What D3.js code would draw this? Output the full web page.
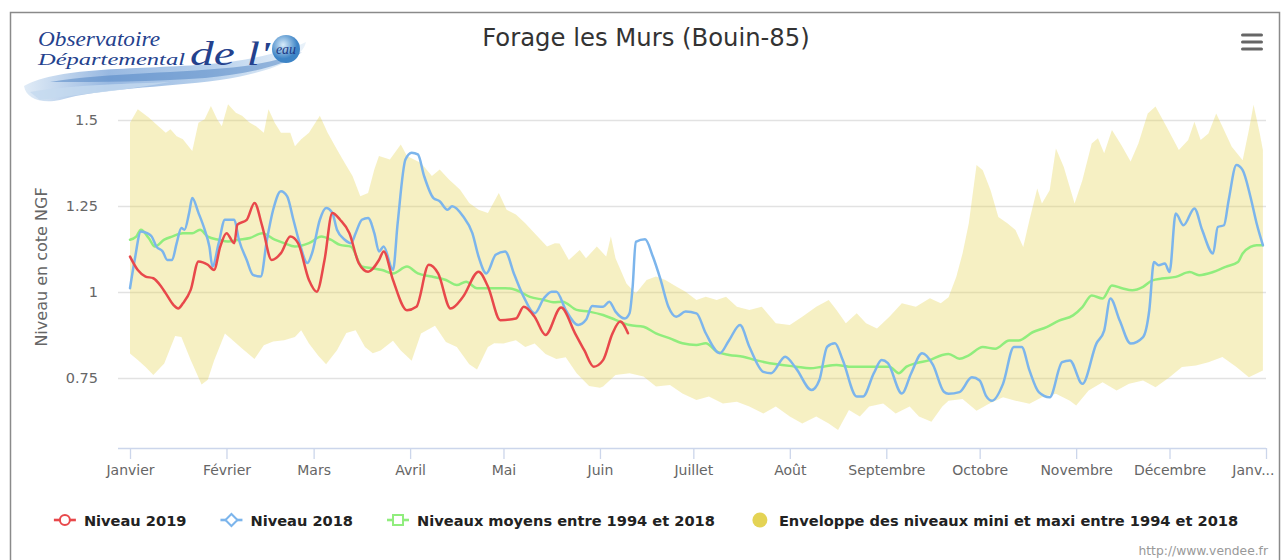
<!DOCTYPE html>
<html>
<head>
<meta charset="utf-8">
<script src="https://cdn.jsdelivr.net/npm/d3@7"></script>
<style>
  body { margin: 0; background: #fff; }
  svg { display: block; font-family: "DejaVu Sans", sans-serif; }
</style>
</head>
<body>
<svg id="chart"></svg>
<script>
// month labels on the x axis (last one is cut by the chart edge)
let moisLabels = ["Janvier", "Février", "Mars", "Avril", "Mai", "Juin", "Juillet",
  "Août", "Septembre", "Octobre", "Novembre", "Décembre", "Janv..."];
let yTicks = [0.75, 1, 1.25, 1.5];

// [day of year, level]
let niveau2019 = [
  [0, 1.103], [2.5, 1.064], [5, 1.045], [7.5, 1.040], [10, 1.016], [11.5, 0.996], [14, 0.962],
  [15.5, 0.952], [17, 0.967], [19.5, 1.006], [22, 1.089], [25, 1.079], [27, 1.064], [29, 1.132],
  [31, 1.171], [33.5, 1.142], [34.5, 1.196], [37.5, 1.210], [40, 1.259], [42.5, 1.191],
  [45.5, 1.093], [48.5, 1.113], [51.5, 1.161], [54, 1.142], [57.5, 1.035], [60, 1.001],
  [62.5, 1.093], [65, 1.230], [67.5, 1.210], [70.5, 1.171], [73.5, 1.084], [76.5, 1.059],
  [80, 1.093], [81.5, 1.118], [84.5, 1.035], [89, 0.947], [92, 0.957], [96, 1.079], [99, 1.054],
  [103, 0.952], [107, 0.986], [112, 1.059], [115, 1.016], [119, 0.918], [124, 0.923],
  [126.5, 0.957], [130, 0.928], [133.5, 0.875], [138.5, 0.955], [143, 0.880], [146, 0.830],
  [149, 0.783], [152, 0.802], [155, 0.879], [157.5, 0.914], [160, 0.880]
];

let niveau2018 = [
  [0, 1.011], [1.5, 1.093], [3.5, 1.176], [5.5, 1.171], [7, 1.161], [8.5, 1.132], [10.5, 1.118],
  [12, 1.093], [13.5, 1.093], [15, 1.142], [16.5, 1.186], [17.5, 1.181], [19, 1.230], [20, 1.273],
  [22, 1.230], [24, 1.181], [25.5, 1.132], [26.5, 1.074], [28.5, 1.142], [30.5, 1.210],
  [33.5, 1.210], [35, 1.152], [37.5, 1.093], [39.5, 1.050], [42, 1.045], [44, 1.152],
  [46, 1.239], [48.5, 1.293], [50.5, 1.278], [52.5, 1.210], [54.5, 1.142], [57, 1.084],
  [58.5, 1.113], [61, 1.210], [63, 1.244], [65, 1.230], [66.5, 1.181], [69, 1.152], [71, 1.142],
  [72.5, 1.171], [74.5, 1.210], [76.5, 1.215], [78.5, 1.171], [80, 1.118], [81.5, 1.132],
  [84.5, 1.064], [86, 1.200], [88.5, 1.385], [90.5, 1.405], [92.5, 1.400], [94.5, 1.337],
  [97.5, 1.273], [99.5, 1.264], [102, 1.239], [103.5, 1.249], [107, 1.220], [110, 1.171],
  [112, 1.103], [114.5, 1.054], [117.5, 1.108], [120.5, 1.118], [123.5, 1.050], [126.5, 0.986],
  [130, 0.938], [133, 0.982], [135.5, 1.001], [137, 1.001], [140, 0.948], [144, 0.904],
  [146.5, 0.919], [148.5, 0.959], [152, 0.957], [154, 0.972], [156, 0.943], [159, 0.923],
  [160.5, 0.938], [161.5, 1.015], [162.5, 1.146], [165.5, 1.153], [168, 1.103], [170.5, 1.035],
  [173, 0.957], [175.5, 0.928], [178.5, 0.943], [182, 0.938], [185, 0.880], [189.5, 0.822],
  [192.5, 0.860], [196, 0.904], [199, 0.841], [203.5, 0.768], [206, 0.764], [210.5, 0.812],
  [214, 0.778], [219, 0.715], [221.5, 0.744], [224, 0.841], [226.5, 0.851], [229, 0.802],
  [233.5, 0.696], [235.5, 0.696], [239, 0.764], [241.5, 0.802], [243.5, 0.793], [248, 0.705],
  [251, 0.764], [254.5, 0.822], [258, 0.788], [261.5, 0.710], [263, 0.704], [266.5, 0.709],
  [270.5, 0.752], [273, 0.743], [275, 0.699], [277, 0.684], [280.5, 0.733], [284, 0.840],
  [286.5, 0.840], [289, 0.772], [292, 0.709], [295.5, 0.694], [299.5, 0.796], [302, 0.801],
  [306, 0.733], [310.5, 0.850], [313, 0.888], [315, 0.981], [318, 0.917], [321.5, 0.850],
  [325.5, 0.869], [327.5, 0.947], [329, 1.087], [330.5, 1.078], [332.5, 1.083], [334, 1.058],
  [336, 1.228], [338.5, 1.194], [342, 1.243], [344.5, 1.180], [348, 1.112], [349.5, 1.189],
  [351.5, 1.194], [353, 1.267], [355.5, 1.369], [357.5, 1.354], [360, 1.277], [362, 1.199],
  [364, 1.136]
];

let niveauMoyen = [
  [0, 1.152], [2, 1.161], [3.5, 1.181], [6, 1.157], [8, 1.132], [11, 1.152], [13.5, 1.161],
  [17, 1.171], [20, 1.171], [22.5, 1.181], [25, 1.161], [28.5, 1.152], [31.5, 1.147],
  [35, 1.152], [38.5, 1.157], [42.5, 1.171], [46.5, 1.152], [49.5, 1.142], [53, 1.132],
  [57.5, 1.142], [61.5, 1.161], [64.5, 1.152], [67.5, 1.137], [71, 1.132], [74.5, 1.074],
  [78, 1.069], [81, 1.064], [84.5, 1.054], [89, 1.074], [92.5, 1.054], [97, 1.045],
  [101.5, 1.035], [105, 1.020], [108, 1.030], [111.5, 1.011], [116, 1.011], [120.5, 1.011],
  [124, 1.006], [128.5, 0.986], [133, 0.977], [136, 0.970], [139, 0.972], [143.5, 0.948],
  [147.5, 0.943], [152, 0.933], [156, 0.919], [160.5, 0.904], [165, 0.899], [169, 0.880],
  [173.5, 0.865], [177.5, 0.851], [182, 0.846], [185, 0.851], [188.5, 0.827], [192.5, 0.817],
  [197, 0.812], [201, 0.802], [205.5, 0.793], [209.5, 0.788], [214, 0.783], [218.5, 0.778],
  [222.5, 0.783], [227, 0.788], [231, 0.783], [235.5, 0.783], [239.5, 0.783], [244, 0.783],
  [247, 0.764], [249.5, 0.783], [252.5, 0.793], [257, 0.802], [261, 0.817], [263, 0.820],
  [266.5, 0.806], [269.5, 0.816], [274, 0.840], [278, 0.835], [282.5, 0.859], [285.5, 0.859],
  [290, 0.883], [294.5, 0.898], [298.5, 0.917], [303, 0.932], [306, 0.956], [309, 0.990],
  [312.5, 0.981], [315.5, 1.019], [319, 1.010], [322, 1.005], [325.5, 1.015], [328.5, 1.034],
  [331.5, 1.039], [336, 1.044], [340.5, 1.058], [343.5, 1.049], [348, 1.058], [352, 1.073],
  [356, 1.087], [357.5, 1.112], [360, 1.131], [362, 1.136], [364, 1.136]
];

let enveloppeMax = [
  [0, 1.492], [2.5, 1.531], [6, 1.507], [8.5, 1.487], [11.5, 1.463], [13, 1.473], [15, 1.453],
  [17, 1.444], [20, 1.410], [22, 1.492], [24, 1.502], [26, 1.541], [28, 1.502], [29.5, 1.482],
  [31.5, 1.546], [34, 1.521], [36, 1.512], [38.5, 1.492], [40.5, 1.482], [43, 1.463],
  [44.5, 1.531], [46.5, 1.492], [48.5, 1.463], [51.5, 1.463], [53, 1.424], [55, 1.444],
  [57.5, 1.463], [61, 1.512], [63.5, 1.463], [66.5, 1.414], [69, 1.375], [71.5, 1.337],
  [74, 1.278], [76.5, 1.288], [78.5, 1.356], [80, 1.395], [83.5, 1.385], [87, 1.429],
  [89, 1.395], [93.5, 1.375], [97, 1.337], [99.5, 1.356], [102.5, 1.327], [106, 1.298],
  [109, 1.259], [112, 1.239], [115, 1.230], [118.5, 1.288], [121, 1.239], [124, 1.225],
  [127, 1.200], [130, 1.171], [134, 1.132], [136.5, 1.142], [138, 1.141], [141, 1.093],
  [144.5, 1.122], [146.5, 1.098], [150, 1.132], [153, 1.103], [154.5, 1.161], [156, 1.098],
  [159.5, 1.025], [162.5, 0.996], [166, 1.035], [169, 1.045], [172, 1.035], [175.5, 1.016],
  [178.5, 1.001], [182, 0.977], [185, 0.986], [188.5, 0.977], [191.5, 0.986], [195, 0.957],
  [199, 0.948], [203, 0.957], [207.5, 0.909], [212, 0.904], [216, 0.928], [220.5, 0.957],
  [224.5, 0.977], [227, 0.948], [230, 0.909], [233.5, 0.938], [236.5, 0.909], [240, 0.894],
  [244, 0.928], [248, 0.967], [252.5, 0.957], [257, 0.982], [260.5, 0.967], [263, 0.985],
  [265.5, 1.044], [267.5, 1.112], [269.5, 1.199], [272, 1.369], [274, 1.354], [276.5, 1.296],
  [279, 1.218], [282, 1.199], [284.5, 1.180], [287, 1.131], [289, 1.209], [291.5, 1.301],
  [293, 1.257], [295.5, 1.296], [297.5, 1.417], [300, 1.364], [303.5, 1.257], [306, 1.325],
  [309, 1.432], [311, 1.447], [313, 1.403], [315.5, 1.471], [318.5, 1.427], [321.5, 1.379],
  [324, 1.432], [327, 1.519], [329.5, 1.539], [333, 1.481], [337, 1.413], [340, 1.442],
  [342, 1.495], [344, 1.442], [346.5, 1.461], [349, 1.519], [351.5, 1.471], [354, 1.422],
  [357.5, 1.383], [359.5, 1.471], [361, 1.544], [363, 1.461], [364, 1.413]
];

let enveloppeMin = [
  [0, 0.821], [2.5, 0.802], [5, 0.782], [7.5, 0.759], [11, 0.792], [14.5, 0.872], [16.5, 0.869],
  [19.5, 0.802], [23, 0.731], [25, 0.745], [27, 0.800], [30.5, 0.879], [33, 0.860], [36, 0.836],
  [40, 0.805], [43, 0.845], [46, 0.856], [49.5, 0.860], [53, 0.869], [55, 0.889], [57.5, 0.850],
  [60.5, 0.815], [63, 0.790], [66.5, 0.831], [69.5, 0.881], [72.5, 0.889], [75.5, 0.840],
  [78, 0.822], [80.5, 0.830], [84.5, 0.858], [87, 0.830], [90.5, 0.800], [93.5, 0.879],
  [98, 0.902], [101.5, 0.855], [105, 0.840], [109, 0.790], [111.5, 0.775], [115, 0.840],
  [117, 0.851], [120, 0.850], [124, 0.860], [127, 0.840], [130, 0.850], [133.5, 0.820],
  [137, 0.805], [140, 0.810], [143.5, 0.764], [147.5, 0.727], [151, 0.722], [152, 0.725],
  [156, 0.759], [160.5, 0.764], [165, 0.754], [169, 0.725], [173.5, 0.730], [177.5, 0.705],
  [182, 0.686], [186, 0.696], [190.5, 0.676], [195, 0.681], [199, 0.667], [203.5, 0.647],
  [207.5, 0.667], [212, 0.638], [216, 0.618], [220.5, 0.638], [224.5, 0.618], [227.5, 0.599],
  [231, 0.657], [234.5, 0.638], [237.5, 0.667], [242, 0.676], [246, 0.647], [250.5, 0.667],
  [253.5, 0.638], [257.5, 0.623], [261, 0.667], [263, 0.684], [267.5, 0.689], [272, 0.655],
  [276, 0.675], [280.5, 0.694], [284.5, 0.684], [289, 0.675], [293, 0.694], [297.5, 0.704],
  [302, 0.684], [304, 0.670], [308, 0.714], [312.5, 0.738], [317, 0.714], [321, 0.733],
  [325.5, 0.743], [329.5, 0.723], [334, 0.752], [338, 0.782], [342.5, 0.786], [346.5, 0.796],
  [351, 0.811], [355.5, 0.782], [359.5, 0.752], [364, 0.772]
];

let legendItems = [
  { name: "Niveau 2019", color: "#e8484b", symbol: "circle" },
  { name: "Niveau 2018", color: "#7cb5ec", symbol: "diamond" },
  { name: "Niveaux moyens entre 1994 et 2018", color: "#90ed7d", symbol: "square" },
  { name: "Enveloppe des niveaux mini et maxi entre 1994 et 2018", color: "#e4d354", symbol: "area" }
];

let width = 1284;
let height = 560;
let plotLeft = 118;
let plotRight = 1266;
let plotTop = 100;
let plotBottom = 448;

let svg = d3.select("#chart").attr("width", width).attr("height", height);

let yearStart = Date.UTC(2019, 0, 1);
let dayToDate = (d) => new Date(yearStart + d * 864e5);

let xScale = d3.scaleUtc()
  .domain([new Date(yearStart), new Date(Date.UTC(2020, 0, 1))])
  .range([130, 1266]);

let yScale = d3.scaleLinear().domain([0.75, 1.5]).range([378, 120]);

let toPoint = (item) => [xScale(dayToDate(item[0])), yScale(item[1])];

// frame
svg.append("rect")
  .attr("x", 10.5).attr("y", 12.5)
  .attr("width", 1269).attr("height", 600)
  .attr("fill", "#fff").attr("stroke", "#8a8a8a").attr("stroke-width", 1.5);

// ---------- logo ----------
let drawLogo = () => {
  let defs = svg.append("defs");
  let grad = defs.append("linearGradient").attr("id", "swoosh");
  grad.append("stop").attr("offset", "0%").attr("stop-color", "#dbe8f5");
  grad.append("stop").attr("offset", "30%").attr("stop-color", "#86acdc");
  grad.append("stop").attr("offset", "65%").attr("stop-color", "#a9c7e8");
  grad.append("stop").attr("offset", "100%").attr("stop-color", "#e6f0f9");
  let drop = defs.append("radialGradient").attr("id", "drop").attr("cx", "40%").attr("cy", "35%");
  drop.append("stop").attr("offset", "0%").attr("stop-color", "#d8ecfa");
  drop.append("stop").attr("offset", "100%").attr("stop-color", "#3d84c6");

  let g = svg.append("g");
  // broad light brush stroke
  g.append("path")
    .attr("d", "M24,86 C60,66 140,70 210,64 C255,60 290,50 306,42 C302,60 270,72 220,80 C160,88 100,88 60,100 C40,104 26,98 24,86 Z")
    .attr("fill", "url(#swoosh)").attr("opacity", 0.85);
  // darker streak
  g.append("path")
    .attr("d", "M50,82 C110,72 180,74 245,66 C272,62 292,56 302,52 C285,66 245,74 205,78 C150,82 100,82 50,82 Z")
    .attr("fill", "#4a7fc1").attr("opacity", 0.5);
  g.append("path")
    .attr("d", "M30,92 C80,84 130,84 170,82 C130,90 80,94 40,100 Z")
    .attr("fill", "#c4d9ef").attr("opacity", 0.8);

  g.append("text").attr("x", 38).attr("y", 46)
    .attr("font-family", "Liberation Serif, serif").attr("font-style", "italic")
    .attr("font-size", 21).attr("fill", "#24418d")
    .attr("textLength", 122).attr("lengthAdjust", "spacingAndGlyphs")
    .text("Observatoire");
  g.append("text").attr("x", 38).attr("y", 65)
    .attr("font-family", "Liberation Serif, serif").attr("font-style", "italic")
    .attr("font-size", 17).attr("fill", "#24418d")
    .attr("textLength", 147).attr("lengthAdjust", "spacingAndGlyphs")
    .text("Départemental");
  g.append("text").attr("x", 190).attr("y", 65)
    .attr("font-family", "Liberation Serif, serif").attr("font-style", "italic")
    .attr("font-size", 34).attr("fill", "#24418d")
    .attr("textLength", 80).attr("lengthAdjust", "spacingAndGlyphs")
    .text("de l'");
  g.append("circle").attr("cx", 286).attr("cy", 49).attr("r", 14).attr("fill", "url(#drop)");
  g.append("text").attr("x", 286).attr("y", 54).attr("text-anchor", "middle")
    .attr("font-family", "Liberation Serif, serif").attr("font-style", "italic")
    .attr("font-size", 14).attr("fill", "#1d3a86").text("eau");
};
drawLogo();

// title and menu
svg.append("text")
  .attr("x", 646).attr("y", 46)
  .attr("text-anchor", "middle")
  .attr("font-size", 24.3).attr("fill", "#333")
  .text("Forage les Murs (Bouin-85)");

[35, 42, 49].forEach((y) => {
  svg.append("rect").attr("x", 1241).attr("y", y - 1.6).attr("width", 22).attr("height", 3.2)
    .attr("rx", 1.5).attr("fill", "#666");
});

// grid
svg.append("g").selectAll("line")
  .data(yTicks).enter().append("line")
  .attr("x1", plotLeft).attr("x2", plotRight)
  .attr("y1", (d) => Math.round(yScale(d)) + 0.5)
  .attr("y2", (d) => Math.round(yScale(d)) + 0.5)
  .attr("stroke", "#e2e2e2").attr("stroke-width", 1.3);

// y labels
svg.append("g").selectAll("text")
  .data(yTicks).enter().append("text")
  .attr("x", 98).attr("y", (d) => yScale(d) + 5)
  .attr("text-anchor", "end")
  .attr("font-size", 14.5).attr("fill", "#666")
  .text((d) => String(d));

svg.append("text")
  .attr("transform", "translate(47, 267) rotate(-90)")
  .attr("text-anchor", "middle")
  .attr("font-size", 16).attr("fill", "#666")
  .text("Niveau en cote NGF");

// plot clip
svg.append("clipPath").attr("id", "plot-clip")
  .append("rect").attr("x", plotLeft).attr("y", plotTop)
  .attr("width", plotRight - plotLeft).attr("height", plotBottom - plotTop);

let plot = svg.append("g").attr("clip-path", "url(#plot-clip)");

// envelope
let envPoints = enveloppeMax.map(toPoint).concat(enveloppeMin.slice().reverse().map(toPoint));
plot.append("path")
  .attr("d", d3.line()(envPoints) + "Z")
  .attr("fill", "#e4d354").attr("fill-opacity", 0.35);

let line = d3.line().curve(d3.curveMonotoneX);

let drawSeries = (data, color) => {
  plot.append("path")
    .attr("d", line(data.map(toPoint)))
    .attr("fill", "none")
    .attr("stroke", color)
    .attr("stroke-width", 2.5)
    .attr("stroke-linejoin", "round")
    .attr("stroke-linecap", "round");
};

drawSeries(niveauMoyen, "#90ed7d");
drawSeries(niveau2018, "#7cb5ec");
drawSeries(niveau2019, "#e8484b");

// x axis
let monthDates = d3.utcMonth.range(new Date(yearStart), new Date(Date.UTC(2020, 0, 2)));
let xAxis = d3.axisBottom(xScale)
  .tickValues(monthDates)
  .tickSize(11)
  .tickPadding(6)
  .tickFormat((d, i) => moisLabels[i]);

let xAxisG = svg.append("g")
  .attr("transform", "translate(0, " + plotBottom + ")")
  .call(xAxis);
xAxisG.select(".domain").remove();
xAxisG.selectAll(".tick line").attr("stroke", "#ccd6eb").attr("stroke-width", 1.3);
xAxisG.selectAll(".tick text")
  .attr("font-family", "DejaVu Sans, sans-serif")
  .attr("font-size", 14).attr("fill", "#666");
xAxisG.selectAll(".tick text").filter((d, i) => i === moisLabels.length - 1)
  .attr("text-anchor", "end").attr("x", 8);
svg.append("line")
  .attr("x1", plotLeft).attr("x2", plotRight)
  .attr("y1", plotBottom + 0.5).attr("y2", plotBottom + 0.5)
  .attr("stroke", "#ccd6eb").attr("stroke-width", 1.3);

// legend
let legend = svg.append("g");
let legendY = 520;
let cursor = 0;
legendItems.forEach((item) => {
  let g = legend.append("g").attr("transform", "translate(" + cursor + ",0)");
  if (item.symbol === "area") {
    g.append("circle").attr("cx", 11).attr("cy", legendY).attr("r", 7.5).attr("fill", item.color);
  } else {
    g.append("line").attr("x1", 0).attr("x2", 22).attr("y1", legendY).attr("y2", legendY)
      .attr("stroke", item.color).attr("stroke-width", 2.6);
    if (item.symbol === "circle") {
      g.append("circle").attr("cx", 11).attr("cy", legendY).attr("r", 5)
        .attr("fill", "#fff").attr("stroke", item.color).attr("stroke-width", 2);
    } else if (item.symbol === "diamond") {
      g.append("path")
        .attr("d", "M11," + (legendY - 6) + " L17," + legendY + " L11," + (legendY + 6) + " L5," + legendY + " Z")
        .attr("fill", "#fff").attr("stroke", item.color).attr("stroke-width", 2);
    } else {
      g.append("rect").attr("x", 6).attr("y", legendY - 5).attr("width", 10).attr("height", 10)
        .attr("fill", "#fff").attr("stroke", item.color).attr("stroke-width", 2);
    }
  }
  let t = g.append("text")
    .attr("x", 30).attr("y", legendY + 5.5)
    .attr("font-size", 14.6).attr("font-weight", "bold").attr("fill", "#222")
    .text(item.name);
  cursor += 30 + t.node().getComputedTextLength() + 34;
});
let legendWidth = cursor - 34;
legend.attr("transform", "translate(" + (646 - legendWidth / 2) + ",0)");

// credits
svg.append("text")
  .attr("x", 1268).attr("y", 555)
  .attr("text-anchor", "end")
  .attr("font-size", 12.3).attr("fill", "#999")
  .text("http://www.vendee.fr");
</script>
</body>
</html>
